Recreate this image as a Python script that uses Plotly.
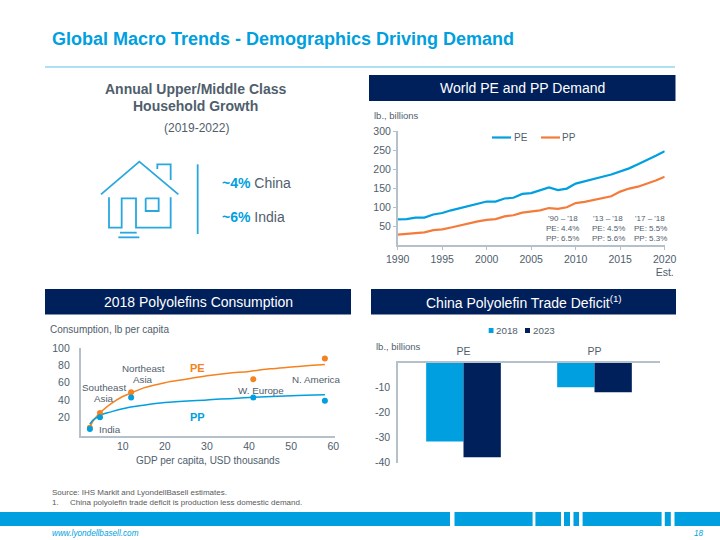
import plotly.graph_objects as go

W, H = 720, 540
FONT = "Liberation Sans, Arial, sans-serif"
SLATE = "#4F5E6C"
BLUE = "#009FDF"
NAVY = "#00205B"
ORANGE = "#F58220"
LINE_ORANGE = "#F47B3A"
AXIS = "#B4C0CA"

# Data
years = list(range(1990, 2021))
pe_demand = [68, 69, 73, 73, 81, 85, 92, 98, 102, 110, 115, 115, 123, 125, 135, 137,
             145, 152, 145, 149, 162, 168, 172, 180, 186, 194, 202, 213, 223, 235, 247]
pp_demand = [28, 30, 32, 34, 40, 42, 47, 53, 57, 63, 67, 69, 76, 79, 86, 88,
             92, 98, 96, 100, 111, 114, 119, 123, 129, 141, 149, 154, 161, 170, 180]
year_ticks = [1990, 1995, 2000, 2005, 2010, 2015, 2020]
year_labels = ["1990", "1995", "2000", "2005", "2010", "2015", "2020<br>Est."]

gdp = [2.2, 4.6, 12, 41, 58]
pe_cons = [8, 25, 49, 64, 88]
pp_cons = [6.5, 20, 43, 43, 39]
pe_trend_x = [2.2, 3, 4, 5, 7, 10, 12, 15, 20, 25, 30, 35, 40, 45, 50, 55, 58]
pe_trend_y = [9, 16, 22, 27, 35, 44, 48, 54, 60, 64, 68, 71, 73, 76, 78, 80, 81]
pp_trend_x = [2.2, 3, 4, 5, 7, 10, 15, 20, 30, 40, 50, 58]
pp_trend_y = [12, 17, 20, 23, 26, 30, 34, 37, 40, 43, 45, 46]

products = ["PE", "PP"]
deficit_2018 = [-31.5, -9.8]
deficit_2023 = [-37.8, -11.8]
deficit_ticks = [-10, -20, -30, -40]
deficit_labels = ["-10", "-20", "-30", "-40"]


def px(x):
    return x / W


def py(y):
    return 1 - y / H


def text(x, y, s, size=11, color=SLATE, anchor="left", bold=False, italic=False):
    if bold:
        s = f"<b>{s}</b>"
    if italic:
        s = f"<i>{s}</i>"
    if anchor == "left":
        x -= 2  # annotation box padding
    return dict(x=px(x), y=py(y), xref="paper", yref="paper", text=s, showarrow=False,
                xanchor=anchor, yanchor="middle", align="center" if anchor == "center" else anchor,
                font=dict(family=FONT, size=size, color=color))


def rect(x0, y0, x1, y1, color):
    return dict(type="rect", xref="paper", yref="paper", x0=px(x0), x1=px(x1), y0=py(y0), y1=py(y1),
                fillcolor=color, line=dict(width=0), layer="below")


def seg(pts, color=BLUE, width=1.8):
    path = "M " + " L ".join(f"{px(a):.5f},{py(b):.5f}" for a, b in pts)
    return dict(type="path", xref="paper", yref="paper", path=path,
                line=dict(color=color, width=width))


fig = go.Figure()

# World demand
fig.add_trace(go.Scatter(x=years, y=pe_demand, mode="lines", name="PE", xaxis="x", yaxis="y", showlegend=False,
                         line=dict(color=BLUE, width=2.2)))
fig.add_trace(go.Scatter(x=years, y=pp_demand, mode="lines", name="PP", xaxis="x", yaxis="y", showlegend=False,
                         line=dict(color=LINE_ORANGE, width=2.2)))

# Consumption
fig.add_trace(go.Scatter(x=pe_trend_x, y=pe_trend_y, mode="lines", xaxis="x2", yaxis="y2", showlegend=False,
                         line=dict(color=ORANGE, width=1.5, shape="spline")))
fig.add_trace(go.Scatter(x=pp_trend_x, y=pp_trend_y, mode="lines", xaxis="x2", yaxis="y2", showlegend=False,
                         line=dict(color=BLUE, width=1.5, shape="spline")))
fig.add_trace(go.Scatter(x=gdp, y=pe_cons, mode="markers", xaxis="x2", yaxis="y2", showlegend=False,
                         marker=dict(color=ORANGE, size=6)))
fig.add_trace(go.Scatter(x=gdp, y=pp_cons, mode="markers", xaxis="x2", yaxis="y2", showlegend=False,
                         marker=dict(color=BLUE, size=6)))

# Trade deficit
fig.add_trace(go.Bar(x=products, y=deficit_2018, name="2018", marker=dict(color=BLUE, line=dict(width=0)),
                     xaxis="x3", yaxis="y3", showlegend=False))
fig.add_trace(go.Bar(x=products, y=deficit_2023, name="2023", marker=dict(color=NAVY, line=dict(width=0)),
                     xaxis="x3", yaxis="y3", showlegend=False))

tick_font = dict(family=FONT, size=10.5, color=SLATE)
axis_common = dict(showgrid=False, zeroline=False, showline=True, linecolor=AXIS, linewidth=1.5,
                   tickfont=tick_font, fixedrange=True)

shapes = [
    seg([(45, 67), (675, 67)], "#5BC2E7", 1),
    rect(369, 75, 675.5, 101, NAVY),
    rect(45, 289, 351, 314.5, NAVY),
    rect(371, 289, 676, 314.5, NAVY),
    # legend keys
    seg([(492, 137.5), (511, 137.5)], BLUE, 2.2),
    seg([(541, 137.5), (560, 137.5)], LINE_ORANGE, 2.2),
    rect(488.7, 328, 493.5, 333, BLUE),
    rect(525, 328, 530, 333, NAVY),
]
# Footer band
for a, b in [(0, 450), (454.5, 532.6), (535.4, 561), (564, 570), (573.5, 579), (582.6, 661.6), (664.8, 670.8), (674.5, 720)]:
    shapes.append(rect(a, 512, b, 526, BLUE))

# House icon
ICON = "#2AA7DF"
ox, oy, k = 40, 70, 1 / 3
house_paths = [
    [(183, 373), (298, 275), (415, 373)],
    [(352, 297), (352, 283), (392, 283), (392, 330)],
    [(207, 382), (207, 473), (245, 473), (245, 385), (288, 385), (288, 473), (392, 473), (392, 382)],
    [(317, 385), (356, 385), (356, 423), (317, 423), (317, 385)],
    [(240, 488), (290, 488)],
    [(235, 502), (298, 502)],
    [(473, 283), (473, 492)],
]
for p in house_paths:
    shapes.append(seg([(ox + a * k, oy + b * k) for a, b in p], ICON))

annotations = [
    text(52, 39, "Global Macro Trends - Demographics Driving Demand", 18, BLUE, bold=True),
    text(196, 89, "Annual Upper/Middle Class", 14, SLATE, "center", bold=True),
    text(196, 105.5, "Household Growth", 14, SLATE, "center", bold=True),
    text(196.5, 128.5, "(2019-2022)", 12, SLATE, "center"),
    text(221.5, 183, f"<b style='color:{BLUE}'>~4%</b> China", 14, SLATE),
    text(221.5, 216.7, f"<b style='color:{BLUE}'>~6%</b> India", 14, SLATE),
    text(522, 88, "World PE and PP Demand", 14, "white", "center"),
    text(198, 302, "2018 Polyolefins Consumption", 14, "white", "center"),
    text(524, 302, "China Polyolefin Trade Deficit<sup>(1)</sup>", 14, "white", "center"),
    text(374, 115, "lb., billions", 9.5, SLATE),
    text(50, 329.5, "Consumption, lb per capita", 10, SLATE),
    text(375.5, 346, "lb., billions", 9.5, SLATE),
    text(513.5, 137.5, "PE", 10, SLATE),
    text(562, 137.5, "PP", 10, SLATE),
    text(496, 330.7, "2018", 9.8, SLATE),
    text(533, 330.7, "2023", 9.8, SLATE),
    text(562.5, 218.3, "'90 – '18", 8, SLATE, "center"),
    text(562.5, 228, "PE: 4.4%", 8, SLATE, "center"),
    text(562.5, 238, "PP: 6.5%", 8, SLATE, "center"),
    text(608.3, 218.3, "'13 – '18", 8, SLATE, "center"),
    text(608.3, 228, "PE: 4.5%", 8, SLATE, "center"),
    text(608.3, 238, "PP: 5.6%", 8, SLATE, "center"),
    text(650, 218.3, "'17 – '18", 8, SLATE, "center"),
    text(650, 228, "PE: 5.5%", 8, SLATE, "center"),
    text(650, 238, "PP: 5.3%", 8, SLATE, "center"),
    text(143, 368, "Northeast", 9.8, SLATE, "center"),
    text(143, 379.7, "Asia", 9.8, SLATE, "center"),
    text(104.3, 387.3, "Southeast", 9.8, SLATE, "center"),
    text(104.3, 398.5, "Asia", 9.8, SLATE, "center"),
    text(98.7, 429, "India", 9.8, SLATE),
    text(260.5, 390, "W. Europe", 9.8, SLATE, "center"),
    text(316, 379, "N. America", 9.8, SLATE, "center"),
    text(197, 368, "PE", 11, ORANGE, "center", bold=True),
    text(197, 417, "PP", 11, BLUE, "center", bold=True),
    text(52, 492.5, "Source: IHS Markit and LyondellBasell estimates.", 8, "#595959"),
    text(52, 502.5, "1.", 8, "#595959"),
    text(70, 502.5, "China polyolefin trade deficit is production less domestic demand.", 8, "#595959"),
    text(52, 533, "www.lyondellbasell.com", 8.2, BLUE, italic=True),
    text(693.5, 533, "18", 8.2, BLUE, italic=True),
]

fig.update_layout(
    width=W, height=H, margin=dict(l=0, r=0, t=0, b=0, pad=0, autoexpand=False),
    paper_bgcolor="white", plot_bgcolor="white",
    font=dict(family=FONT, color=SLATE),
    barmode="group", bargap=0.43, bargroupgap=0,
    shapes=shapes, annotations=annotations,
    xaxis=dict(domain=[px(397.7), px(664.7)], range=[1990, 2020], anchor="y", tickvals=year_ticks,
               ticktext=year_labels, ticks="outside", ticklen=3, tickcolor=AXIS, **axis_common),
    yaxis=dict(domain=[py(245.4), py(131)], range=[0, 300], anchor="x", tickvals=[50, 100, 150, 200, 250, 300],
               ticks="outside", ticklen=3, tickcolor=AXIS, **axis_common),
    xaxis2=dict(domain=[px(80.6), px(335)], range=[0, 60.4], anchor="y2", tickvals=[10, 20, 30, 40, 50, 60],
                title=dict(text="GDP per capita, USD thousands", font=dict(family=FONT, size=10, color=SLATE), standoff=6),
                **axis_common),
    yaxis2=dict(domain=[py(435.7), py(348)], range=[-1.2, 100], anchor="x2", tickvals=[20, 40, 60, 80, 100],
                ticklabelstandoff=7, **axis_common),
    xaxis3=dict(domain=[px(398), px(660)], anchor="y3", side="top", tickfont=tick_font, showgrid=False,
                zeroline=False, showline=True, linecolor=AXIS, linewidth=1.5, fixedrange=True, ticklen=0,
                ticklabelstandoff=2, type="category", range=[-0.5, 1.5]),
    yaxis3=dict(domain=[py(462.7), py(362.7)], range=[-40, 0], anchor="x3", tickvals=deficit_ticks,
                ticktext=deficit_labels, ticklabelstandoff=4, **axis_common),
)

fig.write_html("out.html", config=dict(displayModeBar=False),
               post_script="document.body.style.margin='0';")
